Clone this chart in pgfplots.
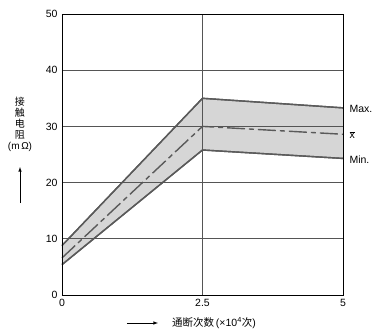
\documentclass[border=0pt]{standalone}
\usepackage{pgfplots}
\pgfplotsset{compat=1.18}
\usepgfplotslibrary{fillbetween}
\usepackage{fontspec}
\setmainfont{Liberation Sans}
\newfontfamily\cjk{Noto Sans CJK SC}
\definecolor{lineg}{HTML}{5A5A5A}
\definecolor{fillg}{HTML}{D6D6D6}
\definecolor{gridg}{HTML}{555555}
\begin{document}
\begin{tikzpicture}
\begin{axis}[
  scale only axis, width=281pt, height=281pt,
  xmin=0, xmax=5, ymin=0, ymax=50,
  xtick={0,2.5,5}, xticklabels={0,2.5,5},
  ytick={0,10,20,30,40,50},
  major tick length=0pt,
  grid=major,
  major grid style={gridg, line width=0.7pt},
  axis line style={black, line width=0.9pt},
  axis on top,
  clip=false,
  tick label style={font=\fontsize{10.5}{12}\selectfont},
  /pgf/number format/assume math mode=true,
  xticklabel style={yshift=-1pt},
  yticklabel style={xshift=-1pt},
]
\addplot[name path=maxp, lineg, line width=1.4pt] coordinates {(0,8.8) (2.5,35.0) (5,33.3)};
\addplot[name path=minp, lineg, line width=1.4pt] coordinates {(0,5.4) (2.5,25.8) (5,24.3)};
\addplot[fillg] fill between[of=maxp and minp];
\addplot[lineg, line width=1.4pt] coordinates {(0,8.8) (2.5,35.0) (5,33.3)};
\addplot[lineg, line width=1.4pt] coordinates {(0,5.4) (2.5,25.8) (5,24.3)};
\addplot[lineg, line width=1.4pt, dash pattern=on 18pt off 4pt on 5pt off 4pt] coordinates {(0,6.6) (2.5,30.0) (5,28.6)};
% right labels
\node[anchor=west, font=\fontsize{10.5}{12}\selectfont] at ([shift={(284pt,-95pt)}]rel axis cs:0,1) {Max.};
\node[anchor=west, font=\fontsize{10.5}{12}\selectfont] at ([shift={(284pt,-121pt)}]rel axis cs:0,1) {\ensuremath{\overline{\mbox{x}}}};
\node[anchor=west, font=\fontsize{10.5}{12}\selectfont] at ([shift={(284pt,-146pt)}]rel axis cs:0,1) {Min.};
% y label
\node[font=\fontsize{10}{12}\selectfont\cjk, align=center, inner sep=0pt] at ([shift={(-42pt,-110pt)}]rel axis cs:0,1)
  {\baselineskip=13.5pt 接\\[-1pt]触\\[-1pt]电\\[-1pt]阻\\[-1pt]{\rmfamily (m$\,$Ω)}};
\draw[-latex, black, line width=0.6pt] ([shift={(-42pt,-189pt)}]rel axis cs:0,1) -- ([shift={(-42pt,-153pt)}]rel axis cs:0,1);
% x label
\draw[-latex, black, line width=0.6pt] ([shift={(65pt,-309pt)}]rel axis cs:0,1) -- ([shift={(96pt,-309pt)}]rel axis cs:0,1);
\node[anchor=west, inner sep=0pt, font=\fontsize{10.5}{12}\selectfont\cjk] at ([shift={(110pt,-309pt)}]rel axis cs:0,1)
  {通断次数{\rmfamily\,(×10\textsuperscript{4}}次{\rmfamily)}};
\end{axis}
\pgfresetboundingbox
\path (current axis.north west) ++(-62pt,14pt) rectangle ++(381pt,-333pt);
\end{tikzpicture}
\end{document}
